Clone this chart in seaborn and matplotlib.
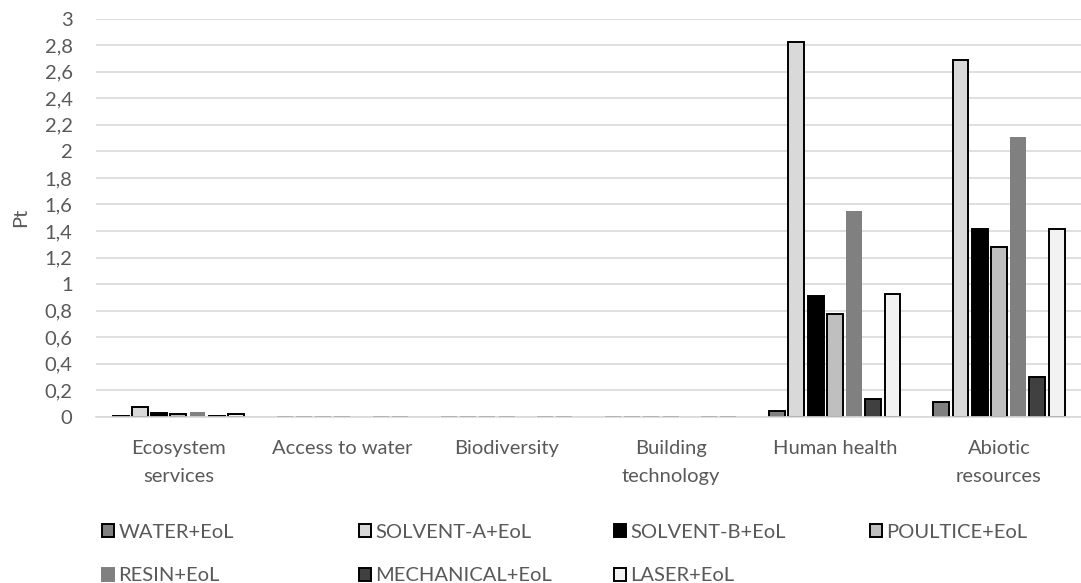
import pandas as pd
import matplotlib.pyplot as plt
import seaborn as sns
from matplotlib.patches import Patch

categories = ['Ecosystem\nservices', 'Access to water', 'Biodiversity',
              'Building\ntechnology', 'Human health', 'Abiotic\nresources']
series = ['WATER+EoL', 'SOLVENT-A+EoL', 'SOLVENT-B+EoL', 'POULTICE+EoL',
          'RESIN+EoL', 'MECHANICAL+EoL', 'LASER+EoL']

water = [0.003, 0.001, 0.001, 0.001, 0.047, 0.113]
solvent_a = [0.075, 0.001, 0.001, 0.001, 2.826, 2.688]
solvent_b = [0.03, 0.001, 0.001, 0.001, 0.912, 1.412]
poultice = [0.02, 0.001, 0.001, 0.001, 0.776, 1.277]
resin = [0.035, 0.0, 0.0, 0.0, 1.552, 2.11]
mechanical = [0.003, 0.001, 0.001, 0.001, 0.131, 0.301]
laser = [0.025, 0.001, 0.001, 0.001, 0.925, 1.412]

values = [water, solvent_a, solvent_b, poultice, resin, mechanical, laser]
fills = ['#808080', '#d9d9d9', '#000000', '#bfbfbf', '#808080', '#404040', '#f2f2f2']
edges = ['black', 'black', 'black', 'black', 'none', 'black', 'black']

rows = []
for name, vals in zip(series, values):
    for cat, v in zip(categories, vals):
        rows.append({'category': cat, 'series': name, 'value': v})
df = pd.DataFrame(rows)

sns.set_style('white')
plt.rcParams['font.family'] = ['Lato', 'DejaVu Sans']
txt = '#595959'
fs = 14.5

fig = plt.figure(figsize=(10.81, 5.83), dpi=100)
ax = fig.add_axes([0.089, 0.285, 0.911, 0.683])

sns.barplot(data=df, x='category', y='value', hue='series', order=categories,
            hue_order=series, palette=fills, width=0.82, gap=0.17,
            saturation=1, ax=ax, legend=False)

# контуры столбцов
for cont, ec in zip(ax.containers, edges):
    for bar in cont:
        if ec == 'none':
            bar.set_edgecolor('none')
            bar.set_linewidth(0)
        else:
            bar.set_edgecolor(ec)
            bar.set_linewidth(1.4)

ax.set_ylim(0, 3)
ax.set_xlim(-0.5, len(categories) - 0.5)
ax.set_yticks([i / 5 for i in range(16)])
ax.set_yticklabels([f'{i / 5:g}'.replace('.', ',') for i in range(16)])
ax.set_xticks(range(len(categories)))
ax.set_xticklabels(categories, linespacing=1.75)
ax.yaxis.grid(True, color='#d9d9d9', linewidth=1.2)
ax.set_axisbelow(True)
for s in ['top', 'right', 'left']:
    ax.spines[s].set_visible(False)
ax.spines['bottom'].set_color('#d9d9d9')
ax.spines['bottom'].set_linewidth(1.2)
ax.tick_params(axis='both', length=0, labelsize=fs, labelcolor=txt)
ax.tick_params(axis='x', pad=17)
ax.tick_params(axis='y', pad=17)
ax.set_xlabel('')
ax.set_ylabel('Pt', fontsize=fs, color=txt, labelpad=11)

# легенда: 4 колонки, строки заполняются слева направо
handles = [Patch(facecolor=f, edgecolor=e if e != 'none' else f, linewidth=1.4)
           for f, e in zip(fills, edges)]
col_x = [102, 359, 614, 870]
for c, x in enumerate(col_x):
    idx = [i for i in (c, c + 4) if i < len(series)]
    fig.legend([handles[i] for i in idx], [series[i] for i in idx],
               loc='upper left', bbox_to_anchor=(x / 1081, 1 - 524 / 583),
               frameon=False, fontsize=fs, labelcolor=txt,
               handlelength=0.62, handleheight=0.62, handletextpad=0.2,
               labelspacing=1.3, borderpad=0, borderaxespad=0)

fig.savefig('out.png', dpi=100)
